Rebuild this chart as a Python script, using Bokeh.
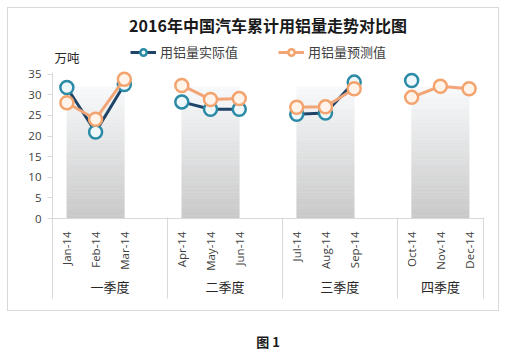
import math
import numpy as np
from bokeh.plotting import figure
from bokeh.models import (Range1d, LinearAxis, FixedTicker, Legend,
                          LegendItem, Title, Label)
from bokeh.embed import file_html
from bokeh.resources import INLINE

# ---------------- data ----------------
months = ["Jan-14", "Feb-14", "Mar-14", "Apr-14", "May-14", "Jun-14",
          "Jul-14", "Aug-14", "Sep-14", "Oct-14", "Nov-14", "Dec-14"]
quarters = ["一季度", "二季度", "三季度", "四季度"]
actual = [31.8, 21.0, 32.5, 28.3, 26.5, 26.5, 25.3, 25.6, 33.1, 33.5, None, None]
forecast = [28.1, 24.1, 33.8, 32.3, 28.9, 29.1, 27.0, 27.1, 31.5, 29.4, 32.1, 31.5]
band = [32, 32, 32, 32]          # background gradient area per quarter
y_ticks = [0, 5, 10, 15, 20, 25, 30, 35]
title_text = "2016年中国汽车累计用铝量走势对比图"
unit_text = "万吨"
caption_text = "图 1"

W, H = 505, 353
FL, FR, FB = 52, 483, 219        # frame left/right/bottom in canvas px
AX_TOP = 74                      # canvas px of the top tick (35)
FT = 36                          # frame top (room for legend inside)
NSLOT = 15
XMIN, XMAX = -0.5, NSLOT - 0.5
PPU = (FB - AX_TOP) / (y_ticks[-1] - y_ticks[0])
YTOP = y_ticks[-1] + (AX_TOP - FT) / PPU
SEP_Y = 300                      # canvas y where the separator guides end
separators = [XMIN + 4 * q for q in range(1, 4)] + [XMAX]
q_ticks = [1.5, 5.5, 9.5, 13]

slot = [(i // 3) * 4 + i % 3 for i in range(len(months))]
nan = float("nan")
act_y = [nan] * NSLOT
fc_y = [nan] * NSLOT
for i, s in enumerate(slot):
    act_y[s] = nan if actual[i] is None else actual[i]
    fc_y[s] = forecast[i]
xs = list(range(NSLOT))

bg = ("linear-gradient(#d9d9d9,#d9d9d9) 7px 7px / 492px 1px no-repeat,"
      "linear-gradient(#d9d9d9,#d9d9d9) 7px 310px / 492px 1px no-repeat,"
      "linear-gradient(#d9d9d9,#d9d9d9) 7px 7px / 1px 304px no-repeat,"
      "linear-gradient(#d9d9d9,#d9d9d9) 498px 7px / 1px 304px no-repeat,"
      "#ffffff")

p = figure(width=W, height=H, output_backend="svg", toolbar_location=None,
           title=None,
           x_range=Range1d(XMIN, XMAX), y_range=Range1d(y_ticks[0], YTOP),
           min_border_left=FL, min_border_right=W - FR,
           min_border_top=FT, min_border_bottom=H - FB,
           styles={"background": bg})
p.grid.visible = False
p.outline_line_color = None
p.background_fill_alpha = 0
p.border_fill_alpha = 0

# gradient background areas
nstrip = 40
c_bot = np.array([0xc9, 0xc9, 0xc9])
c_top = np.array([0xf8, 0xfa, 0xfc])
for q, top in enumerate(band):
    edges = np.linspace(0, top, nstrip + 1)
    cols = []
    for k in range(nstrip):
        t = (k + 0.5) / nstrip
        c = (c_bot * (1 - t) + c_top * t).astype(int)
        cols.append("#%02x%02x%02x" % tuple(c))
    left = q * 4
    p.quad(left=[left] * nstrip, right=[left + 2] * nstrip,
           bottom=edges[:-1], top=edges[1:], fill_color=cols, line_color=cols,
           line_width=0.5)

# series
l1 = p.line(xs, act_y, line_color="#1f4468", line_width=3)
s1 = p.scatter(xs, act_y, marker="circle", size=13, line_color="#2b8aa6",
               line_width=2.5, fill_color="#eef7fa")
l2 = p.line(xs, fc_y, line_color="#f2a678", line_width=3)
s2 = p.scatter(xs, fc_y, marker="circle", size=13, line_color="#f3a46e",
               line_width=2.5, fill_color="#fff3ea")

# y axis (its line is drawn by a guide below so it stops at 35)
yax = p.yaxis[0]
yax.ticker = FixedTicker(ticks=y_ticks, minor_ticks=[])
yax.axis_line_color = None
yax.major_tick_line_color = "#d9d9d9"
yax.major_tick_out = 5
yax.major_tick_in = 0
yax.minor_tick_out = 0
yax.minor_tick_in = 0
yax.major_label_standoff = 6
yax.major_label_text_font = "Open Sans"
yax.major_label_text_font_size = "11.5px"
yax.major_label_text_color = "#404040"

# month axis
xax = p.xaxis[0]
xax.ticker = FixedTicker(ticks=slot, minor_ticks=[])
xax.major_label_overrides = {s: m for s, m in zip(slot, months)}
xax.major_label_orientation = math.pi / 2
xax.major_tick_out = 0
xax.major_tick_in = 0
xax.minor_tick_out = 0
xax.minor_tick_in = 0
xax.axis_line_color = "#d9d9d9"
xax.major_label_standoff = 13
xax.major_label_text_font = "Open Sans"
xax.major_label_text_font_size = "11.5px"
xax.major_label_text_color = "#404040"

# quarter axis
qax = LinearAxis(ticker=FixedTicker(ticks=q_ticks, minor_ticks=[]),
                 major_label_overrides={t: n for t, n in zip(q_ticks, quarters)},
                 axis_line_color=None, major_tick_line_color=None,
                 minor_tick_line_color=None, major_tick_out=0, major_tick_in=0,
                 minor_tick_out=0, minor_tick_in=0, major_label_standoff=3,
                 major_label_text_font="Noto Sans CJK SC",
                 major_label_text_font_size="13px",
                 major_label_text_color="#262626")
p.add_layout(qax, "below")

# quarter separator lines (ticks pointing up to the plot area)
sax = LinearAxis(ticker=FixedTicker(ticks=[], minor_ticks=separators),
                 axis_line_color=None, major_tick_line_color=None,
                 major_tick_out=0, major_tick_in=0,
                 minor_tick_line_color="#d9d9d9", minor_tick_in=SEP_Y - FB,
                 minor_tick_out=0, major_label_standoff=0,
                 major_label_text_font_size="0px")
p.add_layout(sax, "below")
# left vertical line (y axis line continued down) + figure caption
lax = LinearAxis(ticker=FixedTicker(ticks=[], minor_ticks=[XMIN]),
                 axis_line_color=None, major_tick_line_color=None,
                 major_tick_out=0, major_tick_in=0,
                 minor_tick_line_color="#d9d9d9", minor_tick_in=SEP_Y - AX_TOP,
                 minor_tick_out=0, major_label_standoff=0,
                 major_label_text_font_size="0px",
                 axis_label=caption_text, axis_label_standoff=33,
                 axis_label_text_font="Noto Sans CJK SC",
                 axis_label_text_font_style="bold",
                 axis_label_text_font_size="13px",
                 axis_label_text_color="#1a1a1a")
p.add_layout(lax, "below")

# title
main = Title(text=title_text, align="center", offset=-5,
             text_font="Noto Sans CJK SC", text_font_style="bold",
             text_font_size="16px", text_color="#1a1a1a")
if "standoff" in main.properties():
    main.standoff = 0
p.add_layout(main, "above")

# legend inside the (extended) frame
legend = Legend(items=[LegendItem(label="用铝量实际值", renderers=[l1, s1]),
                       LegendItem(label="用铝量预测值", renderers=[l2, s2])],
                orientation="horizontal", location=(78, FB - 62),
                label_text_font="Noto Sans CJK SC", label_text_font_size="13px",
                label_text_color="#404040", glyph_width=26, glyph_height=16,
                label_height=16, spacing=40, padding=0, margin=0,
                border_line_color=None, background_fill_alpha=0,
                label_standoff=4)
p.add_layout(legend)

# unit text
p.add_layout(Label(x=XMIN, y=y_ticks[-1] + (AX_TOP - 57) / PPU, x_offset=2,
                   text=unit_text, text_align="left", text_baseline="middle",
                   text_font="Noto Sans CJK SC", text_font_size="12.5px",
                   text_color="#262626"))

open("out.html", "w").write(file_html(p, INLINE))
